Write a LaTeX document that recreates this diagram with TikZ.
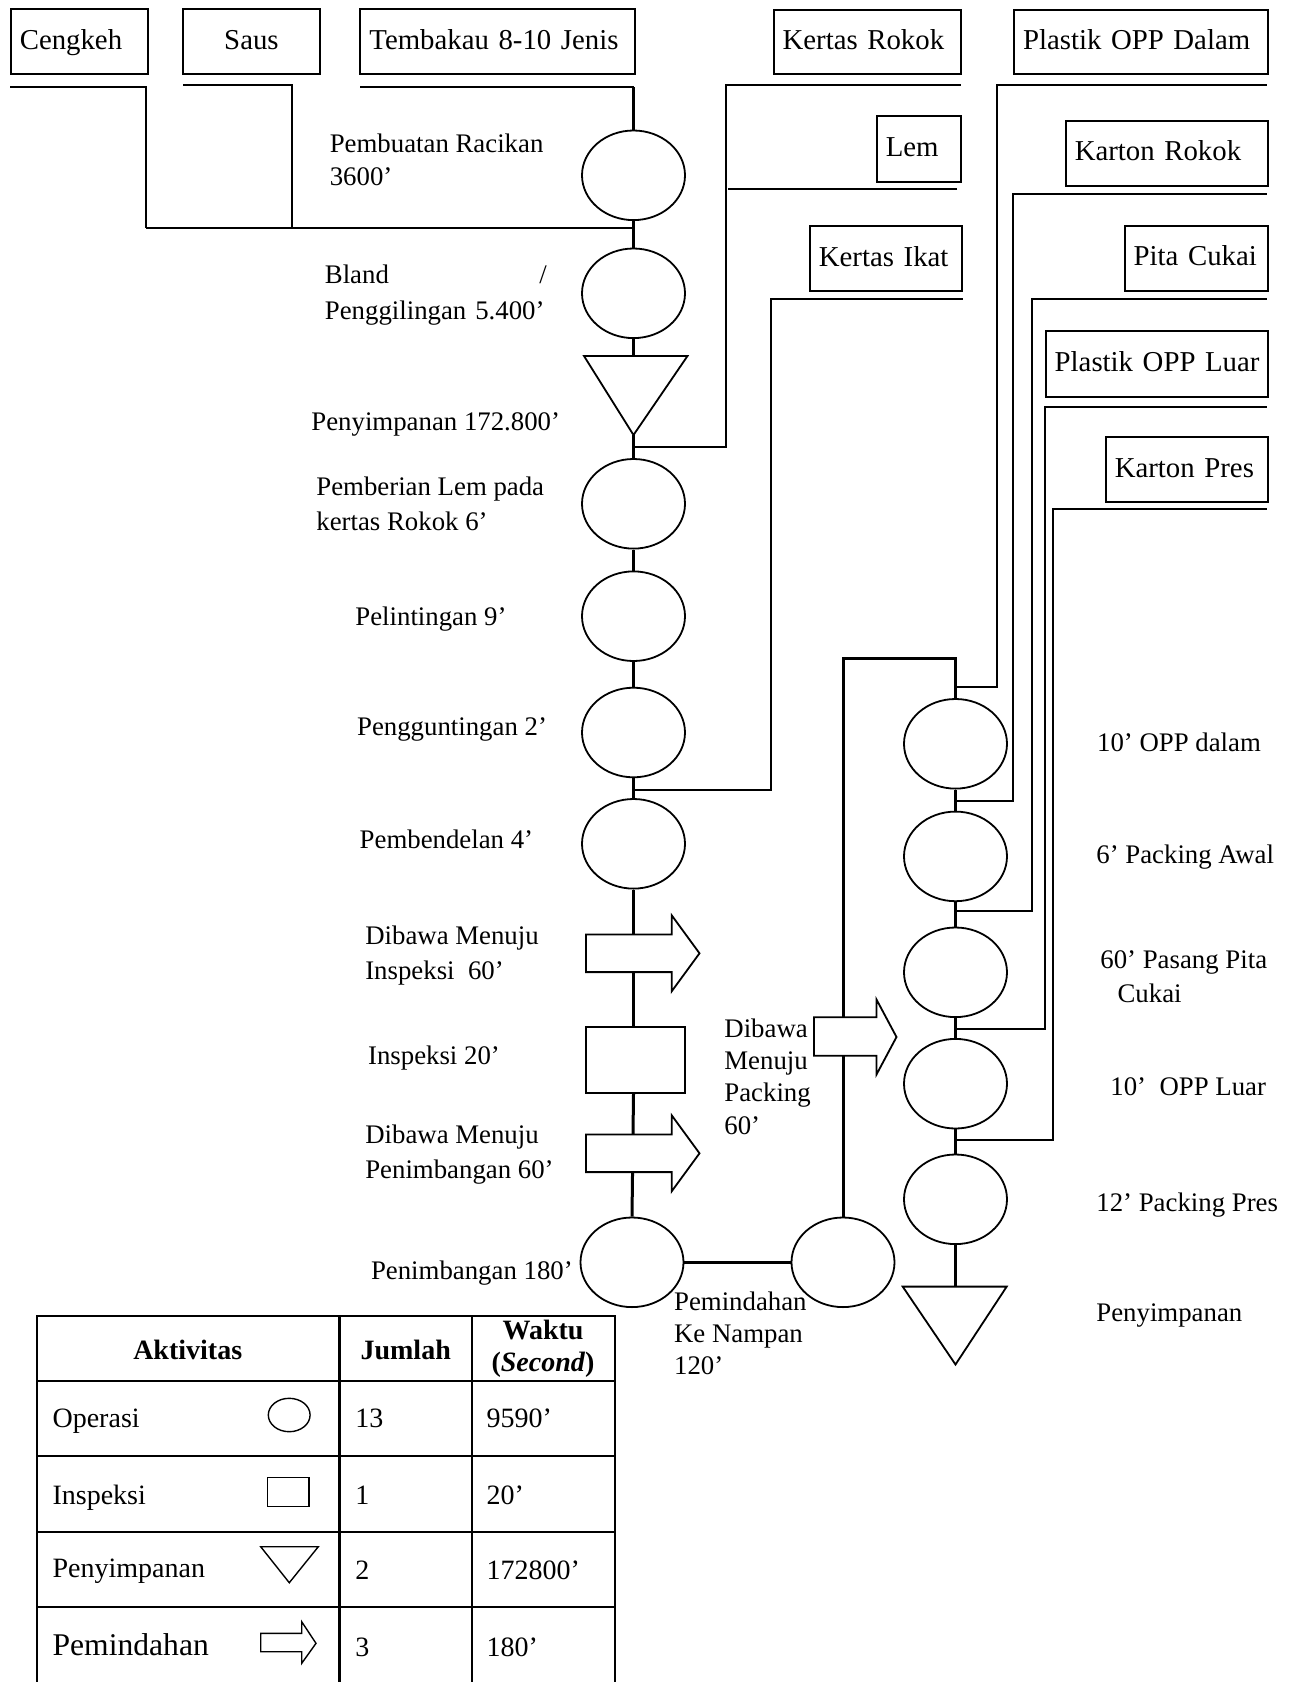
\documentclass[tikz,border=0pt]{standalone}
\usepackage{fontspec}
\setmainfont{Liberation Serif}
\usetikzlibrary{shapes.geometric}
\begin{document}
\begin{tikzpicture}[x=0.5pt,y=-0.5pt,
  box/.style={draw, line width=1pt, anchor=north west, align=left, inner xsep=4.5pt, inner ysep=0pt, text height=10.6pt, text depth=3.2pt, font=\fontsize{14.4}{17}\selectfont},
  op/.style={ellipse, draw, line width=0.9pt, fill=white, minimum width=51.5pt, minimum height=44.8pt, inner sep=0pt},
  insp/.style={rectangle, draw, line width=0.9pt, fill=white, minimum width=49.35pt, minimum height=33.3pt, inner sep=0pt},
  shp/.style={draw, line width=0.9pt, fill=white, line join=miter},
  flow/.style={line width=1.5pt},
  feed/.style={line width=1pt},
  lbl/.style={anchor=base west, inner sep=0pt, font=\fontsize{13.4}{17.5}\selectfont},
  mlbl/.style={anchor=west, align=left, inner sep=0pt, font=\fontsize{13.4}{17.5}\selectfont},
  tbl/.style={line width=1.1pt},
  ttxt/.style={anchor=base west, inner sep=0pt, font=\fontsize{14}{16}\selectfont},
  icon/.style={draw, line width=0.7pt},
  movearrow/.pic={\draw[shp] (-47.5,-18.8) -- (38.2,-18.8) -- (38.2,-38) -- (66,0) -- (38.2,38) -- (38.2,18.8) -- (-47.5,18.8) -- cycle;}
]
\useasboundingbox (0,0) rectangle (1293,1682);
\fill[white] (0,0) rectangle (1293,1682);

% ---------- material boxes ----------
\node[box, text width=59.75pt, minimum height=32.5pt] (cengkeh) at (9.8,8.3) {\mbox{Cengkeh}};
\node[box, text width=59.75pt, minimum height=32.5pt, align=center] (saus) at (181.7,8.3) {\mbox{Saus}};
\node[box, text width=128.25pt, minimum height=32.5pt] (tembakau) at (359.4,8.3) {\mbox{Tembakau 8-10 Jenis}};
\node[box, text width=84.55pt, minimum height=32.15pt] (kertasrokok) at (772.6,8.9) {\mbox{Kertas Rokok}};
\node[box, text width=117.8pt, minimum height=32.15pt] (oppdalam) at (1013,8.9) {\mbox{Plastik OPP Dalam}};
\node[box, text width=32.95pt, minimum height=32.85pt] (lem) at (875.8,115.3) {\mbox{Lem}};
\node[box, text width=91.9pt, minimum height=32.7pt] (kartonrokok) at (1064.8,119.6) {\mbox{Karton Rokok}};
\node[box, text width=66.95pt, minimum height=32.6pt] (kertasikat) at (808.9,225) {\mbox{Kertas Ikat}};
\node[box, text width=62.45pt, minimum height=32.5pt] (pitacukai) at (1123.7,225) {\mbox{Pita Cukai}};
\node[box, text width=101.95pt, minimum height=32.7pt] (oppluar) at (1044.7,330.2) {\mbox{Plastik OPP Luar}};
\node[box, text width=71.9pt, minimum height=32.3pt] (kartonpres) at (1104.8,436.3) {\mbox{Karton Pres}};

% ---------- left process column ----------
\node[op] (c1) at (633.5,175.3) {};
\node[op] (c2) at (633.5,293.3) {};
\coordinate (t1top) at (633.5,356);
\coordinate (t1apex) at (633.5,435);
\node[op] (c3) at (633.5,503.8) {};
\node[op] (c4) at (633.5,616.2) {};
\node[op] (c5) at (633.5,732.5) {};
\node[op] (c6) at (633.5,843.8) {};
\node[insp] (sq) at (635.3,1060) {};
\node[op] (c7) at (632,1262.3) {};
\node[op] (c8) at (843,1262.3) {};

% ---------- right process column ----------
\node[op] (r1) at (955.5,743.8) {};
\node[op] (r2) at (955.5,856.4) {};
\node[op] (r3) at (955.5,972.3) {};
\node[op] (r4) at (955.5,1083.7) {};
\node[op] (r5) at (955.5,1199.3) {};
\coordinate (t2top) at (955.5,1286.6);
\coordinate (t2apex) at (955.5,1364.5);

% ---------- feed coordinates ----------
\coordinate (cgk0) at (10,87.3);
\coordinate (cgk1) at (145.5,228);
\coordinate (mix) at (633.5,228);
\coordinate (sau0) at (183,85);
\coordinate (sau1) at (292.4,228);
\coordinate (tbk0) at (360,87.3);
\coordinate (tbk1) at (633.5,87.3);
\coordinate (kr0) at (960.8,84.6);
\coordinate (kr1) at (725.7,84.6);
\coordinate (kr2) at (633.5,446.7);
\coordinate (lem0) at (957,189.2);
\coordinate (lem1) at (728,189.2);
\coordinate (ki0) at (962.7,299.2);
\coordinate (ki1) at (770.7,299.2);
\coordinate (ki2) at (633.5,790);
\coordinate (pod0) at (1266.6,84.6);
\coordinate (pod1) at (996.7,84.6);
\coordinate (pod2) at (955.5,687.2);
\coordinate (kar0) at (1266.6,193.9);
\coordinate (kar1) at (1013,193.9);
\coordinate (kar2) at (955.5,800.5);
\coordinate (pc0) at (1266.6,299.2);
\coordinate (pc1) at (1031.9,299.2);
\coordinate (pc2) at (955.5,911.4);
\coordinate (pol0) at (1266.6,407.3);
\coordinate (pol1) at (1044.7,407.3);
\coordinate (pol2) at (955.5,1029.4);
\coordinate (kp0) at (1266.6,509.4);
\coordinate (kp1) at (1053.4,509.4);
\coordinate (kp2) at (955.5,1140.3);
\coordinate (retA) at (843,658.9);
\coordinate (retB) at (955.5,658.9);

% ---------- feed lines ----------
\draw[feed] (cgk0) -| (cgk1);
\draw[line width=1.2pt] (cgk1) -- (mix);
\draw[feed] (sau0) -| (sau1);
\draw[feed] (tbk0) -- (tbk1);
\draw[feed] (kr0) -- (kr1) |- (kr2);
\draw[feed] (lem0) -- (lem1);
\draw[feed] (ki0) -- (ki1) |- (ki2);
\draw[feed] (pod0) -- (pod1) |- (pod2);
\draw[feed] (kar0) -- (kar1) |- (kar2);
\draw[feed] (pc0) -- (pc1) |- (pc2);
\draw[feed] (pol0) -- (pol1) |- (pol2);
\draw[feed] (kp0) -- (kp1) |- (kp2);

% ---------- main flow ----------
\draw[flow] (tbk1) -- (c1.north);
\draw[flow] (c1.south) -- (c2.north);
\draw[flow] (c2.south) -- (t1top);
\draw[flow] (t1apex) -- (c3.north);
\draw[flow] (c3.south) -- (c4.north);
\draw[flow] (c4.south) -- (c5.north);
\draw[flow] (c5.south) -- (c6.north);
\draw[flow] (c6.south) -- (c6.south |- sq.north);
\draw[flow] (c6.south |- sq.south) -- (c7.north);
\draw[flow] (c7.east) -- (c8.west);
\draw[flow] (c8.north) -- (retA) -- (retB) -- (r1.north);
\draw[flow] (r1.south) -- (r2.north);
\draw[flow] (r2.south) -- (r3.north);
\draw[flow] (r3.south) -- (r4.north);
\draw[flow] (r4.south) -- (r5.north);
\draw[flow] (r5.south) -- (t2top);

% ---------- storage triangles and transport arrows ----------
\draw[shp] (584,356) -- (687.5,356) -- (t1apex) -- cycle;
\draw[shp] (902.7,1286.6) -- (1006.7,1286.6) -- (t2apex) -- cycle;
\pic at (633.5,953.3) {movearrow};
\pic at (633.5,1153.3) {movearrow};
\draw[shp] (814,1017.3) -- (876.5,1017.3) -- (876.5,999.5) -- (896.5,1037) -- (876.5,1074.5) -- (876.5,1055.7) -- (814,1055.7) -- cycle;

% ---------- labels ----------
\node[mlbl, font=\fontsize{13.4}{16.7}\selectfont] (lpr) at (329.4,160) {Pembuatan Racikan\\3600’};
\node[mlbl, text width=111pt, font=\fontsize{13.4}{18.3}\selectfont] (lbl) at (324.5,295) {Bland\hfill/\\Penggilingan 5.400’};
\node[lbl] (lpy) at (311,430.7) {Penyimpanan 172.800’};
\node[mlbl] (lpl) at (316,504.2) {Pemberian Lem pada\\kertas Rokok 6’};
\node[lbl] (lpn) at (355,625.7) {Pelintingan 9’};
\node[lbl] (lpg) at (356.7,735) {Pengguntingan 2’};
\node[lbl] (lpb) at (359.3,848.3) {Pembendelan 4’};
\node[mlbl] (ld1) at (364.9,955.8) {Dibawa Menuju\\Inspeksi\ \ 60’};
\node[lbl] (lin) at (367.7,1064) {Inspeksi 20’};
\node[mlbl] (ld2) at (364.9,1155) {Dibawa Menuju\\Penimbangan 60’};
\node[lbl] (lpt) at (370.6,1279) {Penimbangan 180’};
\node[mlbl, font=\fontsize{13.4}{16.1}\selectfont] (ld3) at (724,1076.7) {Dibawa\\Menuju\\Packing\\60’};
\node[mlbl, font=\fontsize{13.4}{15.85}\selectfont] (lpk) at (673.7,1333.3) {Pemindahan\\Ke Nampan\\120’};
\node[lbl] (lr1) at (1096.7,751.9) {10’ OPP dalam};
\node[lbl] (lr2) at (1096,863.8) {6’ Packing Awal};
\node[mlbl, font=\fontsize{13.4}{17}\selectfont] (lr3) at (1100,977) {60’ Pasang Pita\\\hspace*{8.6pt}Cukai};
\node[lbl] (lr4) at (1110,1095) {10’\ \ OPP Luar};
\node[lbl] (lr5) at (1096,1211.6) {12’ Packing Pres};
\node[lbl] (lr6) at (1096,1321.6) {Penyimpanan};

% ---------- summary table ----------
\draw[tbl] (36.7,1682) -- (36.7,1315.7) -- (615.3,1315.7) -- (615.3,1682);
\draw[tbl] (339.5,1315.7) -- (339.5,1682);
\draw[tbl] (472,1315.7) -- (472,1682);
\foreach \yy in {1380.7,1455.7,1532.3,1607.3} \draw[tbl] (36.7,\yy) -- (615.3,\yy);

\node[inner sep=0pt, font=\fontsize{14}{16}\selectfont\bfseries] (hakt) at (187.7,1350) {Aktivitas};
\node[inner sep=0pt, font=\fontsize{14}{16}\selectfont\bfseries] (hjml) at (405.7,1350) {Jumlah};
\node[inner sep=0pt, align=center, font=\fontsize{14}{15.85}\selectfont\bfseries] (hwkt) at (543,1349) {Waktu\\(\textit{Second})};

\node[ttxt] (a1) at (52.2,1427.5) {Operasi};
\node[ttxt] (n1) at (355,1427.5) {13};
\node[ttxt] (w1) at (486.3,1427.5) {9590’};
\node[ttxt] (a2) at (52.2,1504.3) {Inspeksi};
\node[ttxt] (n2) at (355,1504.3) {1};
\node[ttxt] (w2) at (486.3,1504.3) {20’};
\node[ttxt] (a3) at (52.2,1577) {Penyimpanan};
\node[ttxt] (n3) at (355,1579) {2};
\node[ttxt] (w3) at (486.3,1579) {172800’};
\node[ttxt, font=\fontsize{15.8}{18}\selectfont] (a4) at (52.2,1655.5) {Pemindahan};
\node[ttxt] (n4) at (355,1656) {3};
\node[ttxt] (w4) at (486.3,1656) {180’};

\node[ellipse, icon, minimum width=20.9pt, minimum height=16.7pt, inner sep=0pt] (iop) at (289.2,1415) {};
\node[rectangle, icon, minimum width=20.65pt, minimum height=14.5pt, inner sep=0pt] (iin) at (288.4,1492.2) {};
\draw[icon] (260.7,1546.7) -- (318.3,1546.7) -- (289.3,1582.7) -- cycle;
\draw[icon] (260.7,1633.3) -- (301.7,1633.3) -- (301.7,1621.7) -- (316,1643.3) -- (301.7,1663.3) -- (301.7,1651.7) -- (260.7,1651.7) -- cycle;
\end{tikzpicture}
\end{document}
